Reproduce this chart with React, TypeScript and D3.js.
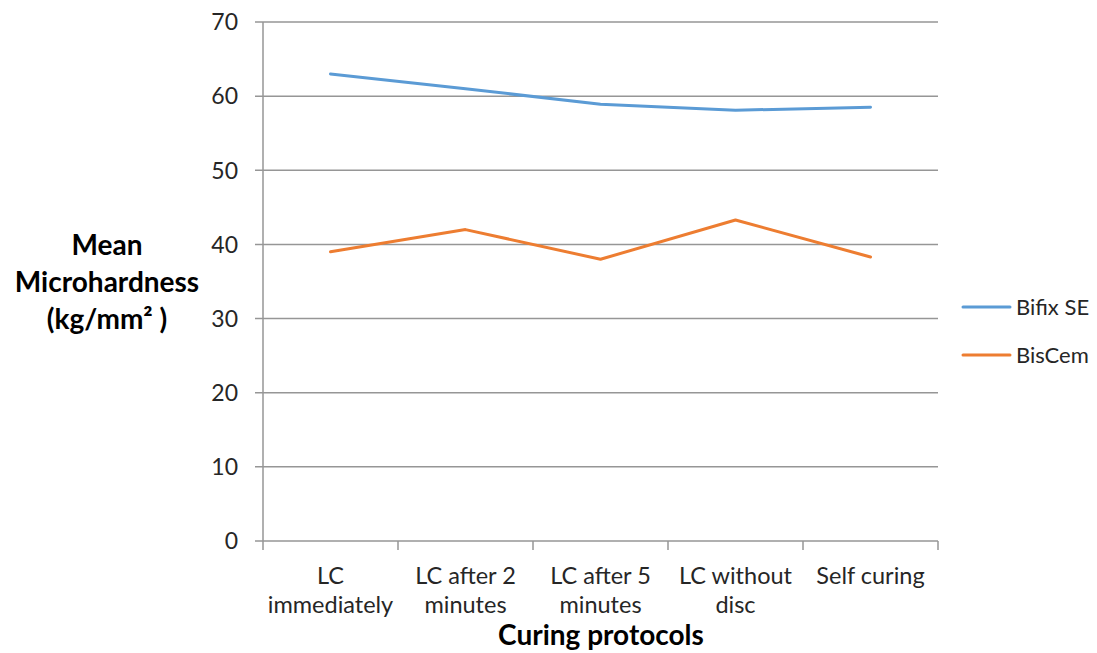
import React from "react";
import * as d3 from "d3";

const categories: string[][] = [
  ["LC", "immediately"],
  ["LC after 2", "minutes"],
  ["LC after 5", "minutes"],
  ["LC without", "disc"],
  ["Self curing"],
];
const bifixSE: number[] = [63.0, 61.0, 58.9, 58.1, 58.5];
const bisCem: number[] = [39.0, 42.0, 38.0, 43.3, 38.3];
const yTicks: number[] = [0, 10, 20, 30, 40, 50, 60, 70];
const seriesNames: string[] = ["Bifix SE", "BisCem"];
const seriesColors: string[] = ["#5b9bd5", "#ed7d31"];
const yTitle: string[] = ["Mean", "Microhardness", "(kg/mm² )"];
const xTitle = "Curing protocols";

const W = 1097;
const H = 653;
const left = 263;
const right = 938;
const top = 22;
const bottom = 541;
const FONT = "Lato, 'Open Sans', sans-serif";
const GRID = "#969696";

export default function App() {
  const x = d3
    .scaleBand<number>()
    .domain(categories.map((_, i) => i))
    .range([left, right])
    .padding(0);
  const y = d3.scaleLinear().domain([0, 70]).range([bottom, top]);
  const line = d3
    .line<number>()
    .x((_, i) => (x(i) as number) + x.bandwidth() / 2)
    .y((d) => y(d));
  const series = [bifixSE, bisCem];
  const boundaries = d3.range(categories.length + 1).map((i) => left + i * x.bandwidth());

  return (
    <svg
      width={W}
      height={H}
      style={{ position: "absolute", left: 0, top: 0, background: "#fff" }}
      fontFamily={FONT}
    >
      {yTicks.map((t) => (
        <g key={t}>
          <line
            x1={left - 8}
            x2={right}
            y1={y(t)}
            y2={y(t)}
            stroke={GRID}
            strokeWidth={1.5}
          />
          <text
            x={238}
            y={y(t)}
            dy="0.36em"
            textAnchor="end"
            fontSize={23}
            fill="#262626"
          >
            {t}
          </text>
        </g>
      ))}
      <line x1={left} x2={left} y1={top} y2={bottom} stroke={GRID} strokeWidth={1.5} />
      {boundaries.map((bx, i) => (
        <line key={i} x1={bx} x2={bx} y1={bottom} y2={bottom + 9} stroke={GRID} strokeWidth={1.5} />
      ))}
      {categories.map((lines, i) => (
        <text
          key={i}
          x={(x(i) as number) + x.bandwidth() / 2}
          textAnchor="middle"
          fontSize={23.5}
          fill="#262626"
        >
          {lines.map((l, j) => (
            <tspan key={j} x={(x(i) as number) + x.bandwidth() / 2} y={584 + j * 29}>
              {l}
            </tspan>
          ))}
        </text>
      ))}
      {series.map((s, k) => (
        <path
          key={k}
          d={line(s) as string}
          fill="none"
          stroke={seriesColors[k]}
          strokeWidth={3}
          strokeLinejoin="round"
          strokeLinecap="round"
        />
      ))}
      <text textAnchor="middle" fontSize={28} fontWeight="bold" fill="#000">
        {yTitle.map((l, j) => (
          <tspan key={j} x={107} y={255 + j * 37}>
            {l}
          </tspan>
        ))}
      </text>
      <text x={601} y={645} textAnchor="middle" fontSize={28} fontWeight="bold" fill="#000">
        {xTitle}
      </text>
      {seriesNames.map((n, k) => (
        <g key={n}>
          <line
            x1={963}
            x2={1010}
            y1={307 + k * 48}
            y2={307 + k * 48}
            stroke={seriesColors[k]}
            strokeWidth={3}
            strokeLinecap="round"
          />
          <text x={1016} y={307 + k * 48} dy="0.36em" fontSize={22} fill="#262626">
            {n}
          </text>
        </g>
      ))}
    </svg>
  );
}
